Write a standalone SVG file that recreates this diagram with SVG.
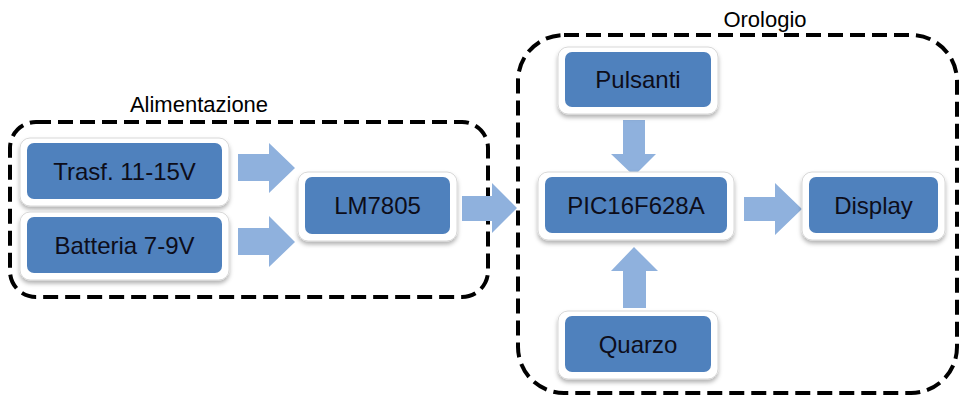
<svg xmlns="http://www.w3.org/2000/svg" width="974" height="407" viewBox="0 0 974 407">
<style>
.grp{fill:none;stroke:#000;stroke-width:4;stroke-dasharray:15 7}
.frame{fill:#fff;stroke:#d8d8d8;stroke-width:1;filter:url(#sh)}
.blk{fill:#4f81bd}
.t{font-family:"Liberation Sans",Arial,sans-serif;font-size:24px;fill:#0d0d1a;text-anchor:middle}
.lbl{font-family:"Liberation Sans",Arial,sans-serif;font-size:22px;fill:#000;text-anchor:middle}
.arr{fill:#8fb1dd}
</style>
<defs>
<filter id="sh" x="-10%" y="-10%" width="120%" height="130%">
<feDropShadow dx="0" dy="3" stdDeviation="2" flood-color="#000" flood-opacity="0.3"/>
</filter>
</defs>
<g id="alimentazione">
<rect class="grp" x="10" y="122" width="478" height="175" rx="26"/>
<text class="lbl" x="199" y="112">Alimentazione</text>
</g>
<g id="orologio">
<rect class="grp" x="518" y="35" width="439" height="358" rx="46"/>
<text class="lbl" x="765" y="27">Orologio</text>
</g>
<g id="connectors">
<polygon class="arr" points="238,154 269,154 269,143 295,168 269,193 269,181 238,181"/>
<polygon class="arr" points="238,228 269,228 269,216 295,242 269,267 269,255 238,255"/>
<polygon class="arr" points="462,196 492,196 492,183 517,208 492,233 492,221 462,221"/>
<polygon class="arr" points="744,197 775,197 775,183 802,209 775,235 775,221 744,221"/>
<polygon class="arr" points="623,120 645,120 645,154 656,154 634,176 611,154 623,154"/>
<polygon class="arr" points="623,308 646,308 646,271 658,271 634,247 611,271 623,271"/>
</g>
<g id="trasf">
<rect class="frame" x="20" y="138" width="209" height="68" rx="10"/>
<rect class="blk" x="27" y="143" width="195" height="56" rx="7"/>
<text class="t" x="124.5" y="179.5">Trasf. 11-15V</text>
</g>
<g id="batteria">
<rect class="frame" x="20" y="212" width="209" height="68" rx="10"/>
<rect class="blk" x="27" y="217" width="195" height="56" rx="7"/>
<text class="t" x="124.5" y="253.5">Batteria 7-9V</text>
</g>
<g id="lm7805">
<rect class="frame" x="298" y="172" width="159" height="69" rx="10"/>
<rect class="blk" x="305" y="177" width="145" height="57" rx="7"/>
<text class="t" x="377.5" y="214">LM7805</text>
</g>
<g id="pulsanti">
<rect class="frame" x="558" y="47" width="160" height="67" rx="10"/>
<rect class="blk" x="565" y="52" width="146" height="55" rx="7"/>
<text class="t" x="638" y="88">Pulsanti</text>
</g>
<g id="pic">
<rect class="frame" x="538" y="172" width="196" height="68" rx="10"/>
<rect class="blk" x="545" y="177" width="182" height="56" rx="7"/>
<text class="t" x="636" y="213.5">PIC16F628A</text>
</g>
<g id="display">
<rect class="frame" x="802" y="172" width="143" height="68" rx="10"/>
<rect class="blk" x="809" y="177" width="129" height="56" rx="7"/>
<text class="t" x="873.5" y="213.5">Display</text>
</g>
<g id="quarzo">
<rect class="frame" x="558" y="311" width="160" height="68" rx="10"/>
<rect class="blk" x="565" y="316" width="146" height="56" rx="7"/>
<text class="t" x="638" y="352.5">Quarzo</text>
</g>
</svg>
